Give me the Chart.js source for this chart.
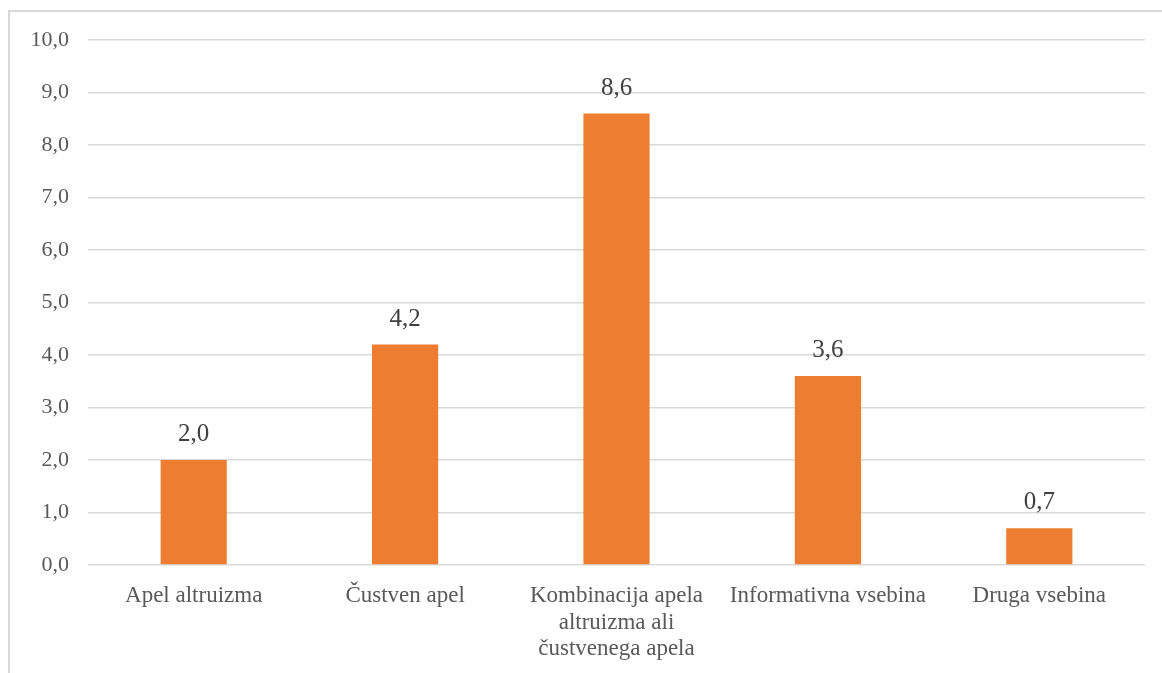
<!DOCTYPE html>
<html>
<head>
<meta charset="utf-8">
<script src="https://cdn.jsdelivr.net/npm/chart.js@4/dist/chart.umd.min.js"></script>
<style>
  html, body { margin: 0; padding: 0; background: #ffffff; overflow: hidden; }
  #wrap { position: relative; width: 1162px; height: 673px; }
  #frame { position: absolute; left: 8px; top: 10px; width: 1200px; height: 800px;
           border: 2px solid #d9d9d9; box-sizing: border-box; }
  canvas { position: absolute; left: 0; top: 0; }
</style>
</head>
<body>
<div id="wrap">
  <div id="frame"></div>
  <canvas id="c" width="1162" height="673"></canvas>
</div>
<script>
// Category names (multi-line where the label wraps)
const categories = [
  'Apel altruizma',
  'Čustven apel',
  ['Kombinacija apela', 'altruizma ali', 'čustvenega apela'],
  'Informativna vsebina',
  'Druga vsebina'
];
// Share per category
const values = [2.0, 4.2, 8.6, 3.6, 0.7];
// Value axis range
const yMin = 0;
const yMax = 10;
const yStep = 1;

const fmt = v => v.toFixed(1).replace('.', ',');
const serif = "'Liberation Serif', 'Times New Roman', serif";

// Writes each bar's value above it
const valueLabels = {
  id: 'valueLabels',
  afterDatasetsDraw(chart) {
    const ctx = chart.ctx;
    const meta = chart.getDatasetMeta(0);
    ctx.save();
    ctx.font = '25px ' + serif;
    ctx.fillStyle = '#404040';
    ctx.textAlign = 'center';
    ctx.textBaseline = 'alphabetic';
    meta.data.forEach((bar, i) => {
      ctx.fillText(fmt(values[i]), bar.x, bar.y - 19);
    });
    ctx.restore();
  }
};

function draw() {
  new Chart(document.getElementById('c'), {
    type: 'bar',
    data: {
      labels: categories,
      datasets: [{
        data: values,
        backgroundColor: '#ed7d31',
        borderWidth: 0,
        categoryPercentage: 1,
        barPercentage: 0.313
      }]
    },
    options: {
      responsive: false,
      animation: false,
      devicePixelRatio: 1,
      layout: { padding: { top: 40, right: 17, left: 0, bottom: 0 } },
      plugins: { legend: { display: false }, tooltip: { enabled: false } },
      scales: {
        x: {
          grid: { display: false },
          border: { display: false },
          ticks: {
            color: '#595959',
            font: { family: serif, size: 23, lineHeight: 1.15 },
            padding: 10,
            maxRotation: 0,
            autoSkip: false
          },
          afterFit(scale) { scale.height = 673 - 565; }
        },
        y: {
          min: yMin,
          max: yMax,
          grid: { color: '#d9d9d9', lineWidth: 1.5, drawTicks: false },
          border: { display: false },
          ticks: {
            stepSize: yStep,
            color: '#595959',
            font: { family: serif, size: 22 },
            padding: 19,
            callback: v => fmt(v)
          },
          afterFit(scale) { scale.width = 88; }
        }
      }
    },
    plugins: [valueLabels]
  });
}

Promise.all([
  document.fonts.load("22px 'Liberation Serif'"),
  document.fonts.load("25px 'Liberation Serif'")
]).then(draw, draw);
</script>
</body>
</html>
